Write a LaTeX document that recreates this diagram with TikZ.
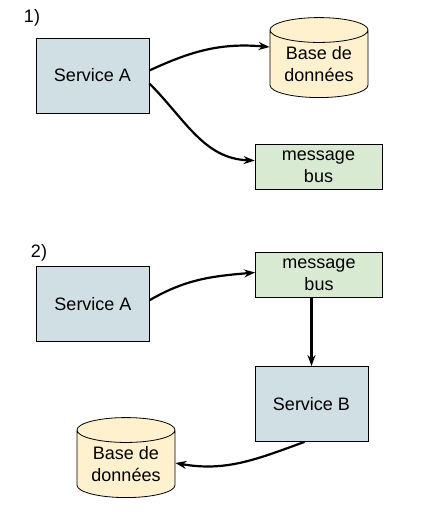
\documentclass[tikz,border=0pt]{standalone}
\usepackage{fontspec}
\setmainfont{Liberation Sans}
\usepackage{tikz}
\usetikzlibrary{arrows.meta,shapes.geometric}
\definecolor{svcblue}{HTML}{D0DFE3}
\definecolor{dbyellow}{HTML}{FFF1CE}
\definecolor{busgreen}{HTML}{D9EAD3}
\begin{document}
\begin{tikzpicture}[x=1pt,y=-1pt]
                      \tikzstyle{svc}=[draw=black,line width=0.8pt,fill=svcblue,minimum width=113pt,minimum height=75pt,font=\fontsize{18}{21.5}\selectfont]
                      \tikzstyle{bus}=[draw=black,line width=0.8pt,fill=busgreen,minimum width=127pt,minimum height=45pt,inner sep=0pt,align=center,font=\fontsize{18}{21.5}\selectfont]
                      \tikzstyle{db}=[cylinder,shape border rotate=90,draw=black,line width=0.8pt,cylinder uses custom fill,cylinder body fill=dbyellow,cylinder end fill=dbyellow,aspect=0.36,minimum width=98pt,minimum height=80pt,inner sep=0pt,align=center,font=\fontsize{18}{21.5}\selectfont]
                      \tikzstyle{flow}=[line width=2.2pt,-{Stealth[length=11pt,width=8pt]}]
                      \useasboundingbox (0,0) rectangle (441,517);
                      % 1)
                      \node (n1) at (32,18) {\fontsize{18}{21.5}\selectfont 1)};
                      \node [svc] (a1) at (92.5,75.5) {Service A};
                      \node [db] (d1) at (319,64) {Base de\\données};
                      \node [bus] (b1) at (318.5,166.5) {message\\bus};
                      \draw [flow] ([yshift=5pt]a1.east) to [out=25,in=175] ([yshift=17pt]d1.west);
                      \draw [flow] ([yshift=-8pt]a1.east) to [out=-45,in=178] ([yshift=6pt]b1.west);
                      % 2)
                      \node (n2) at (39,253) {\fontsize{18}{21.5}\selectfont 2)};
                      \node [svc] (a2) at (93,304) {Service A};
                      \node [bus] (b2) at (319,274.5) {message\\bus};
                      \node [svc] (s2) at (311.5,404) {Service B};
                      \node [db] (d2) at (126,464) {Base de\\données};
                      \draw [flow] ([yshift=4pt]a2.east) to [out=30,in=185] ([yshift=2pt]b2.west);
                      \draw [flow] (s2.north |- b2.south) -- (s2.north);
                      \draw [flow] ([xshift=-7pt]s2.south) to [out=200,in=-10] ([yshift=1pt]d2.east);
                  \end{tikzpicture}
\end{document}
